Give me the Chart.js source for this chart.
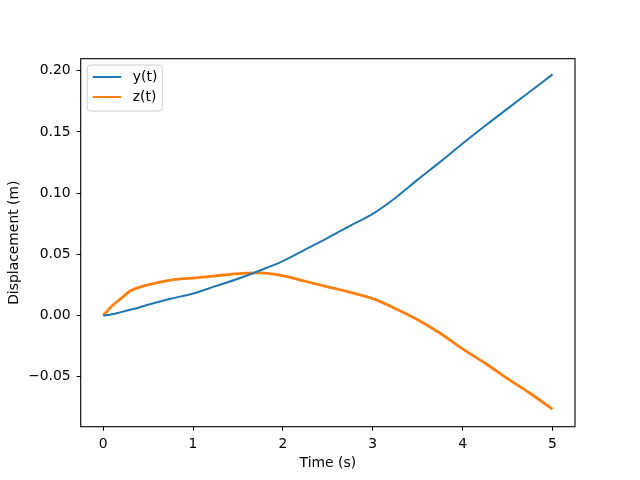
<!DOCTYPE html>
<html>
<head>
<meta charset="utf-8">
<script src="https://cdn.jsdelivr.net/npm/chart.js@4/dist/chart.umd.min.js"></script>
<style>
  html, body { margin: 0; padding: 0; background: #fff; }
  #wrap { width: 640px; height: 480px; }
</style>
</head>
<body>
<div id="wrap"><canvas id="dispChart" width="640" height="480"></canvas></div>
<script>
// data
const timeValues = [0, 0.1, 0.2, 0.3, 0.4, 0.5, 0.75, 1.0, 1.25, 1.5, 1.75, 2.0, 2.25, 2.5, 2.75, 3.0, 3.25, 3.5, 3.75, 4.0, 4.25, 4.5, 4.75, 5.0];
const yValues = [0, 0.001, 0.0028, 0.0047, 0.0066, 0.0088, 0.0137, 0.018, 0.024, 0.030, 0.037, 0.0445, 0.054, 0.0635, 0.0735, 0.083, 0.096, 0.111, 0.1255, 0.1405, 0.155, 0.169, 0.183, 0.197];
const zValues = [0, 0.008, 0.014, 0.020, 0.023, 0.025, 0.029, 0.0306, 0.0324, 0.0343, 0.0348, 0.0325, 0.028, 0.0235, 0.019, 0.0138, 0.0058, -0.0035, -0.0145, -0.0272, -0.039, -0.0515, -0.0635, -0.0765];
const xTicks = [0, 1, 2, 3, 4, 5];
const yTicks = [-0.05, 0, 0.05, 0.10, 0.15, 0.20];
const seriesNames = ['y(t)', 'z(t)'];
const seriesColors = ['#1f77b4', '#ff7f0e'];

const FONT = 'DejaVu Sans';

function toPoints(vals) {
  return timeValues.map((t, i) => ({ x: t, y: vals[i] }));
}

// frame around plot area (matplotlib spines)
const framePlugin = {
  id: 'frame',
  afterDatasetsDraw(chart) {
    const { ctx, chartArea: a } = chart;
    ctx.save();
    ctx.strokeStyle = '#000';
    ctx.lineWidth = 1.1;
    ctx.strokeRect(a.left, a.top, a.right - a.left, a.bottom - a.top);
    ctx.restore();
  }
};

// legend box in upper left corner of axes
const legendPlugin = {
  id: 'mplLegend',
  afterDraw(chart) {
    const { ctx, chartArea: a } = chart;
    const x0 = a.left + 6.6, y0 = a.top + 6.3, w = 75, h = 46;
    ctx.save();
    ctx.beginPath();
    ctx.roundRect(x0, y0, w, h, 3);
    ctx.fillStyle = 'rgba(255,255,255,0.8)';
    ctx.fill();
    ctx.strokeStyle = '#d0d0d0';
    ctx.lineWidth = 1;
    ctx.stroke();
    ctx.font = '13.9px "' + FONT + '"';
    ctx.textBaseline = 'middle';
    ctx.fillStyle = '#000';
    seriesNames.forEach((name, i) => {
      const ly = y0 + 12 + i * 20;
      ctx.beginPath();
      ctx.moveTo(x0 + 5.5, ly);
      ctx.lineTo(x0 + 34, ly);
      ctx.strokeStyle = seriesColors[i];
      ctx.lineWidth = 2;
      ctx.stroke();
      ctx.fillText(name, x0 + 45.5, ly);
    });
    ctx.restore();
  }
};

const ctx = document.getElementById('dispChart').getContext('2d');
const dispChart = new Chart(ctx, {
  type: 'line',
  data: {
    datasets: [
      {
        label: seriesNames[0],
        data: toPoints(yValues),
        borderColor: seriesColors[0],
        borderWidth: 2,
        pointRadius: 0,
        cubicInterpolationMode: 'monotone',
        fill: false
      },
      {
        label: seriesNames[1],
        data: toPoints(zValues),
        borderColor: seriesColors[1],
        borderWidth: 2.8,
        pointRadius: 0,
        cubicInterpolationMode: 'monotone',
        fill: false
      }
    ]
  },
  options: {
    responsive: false,
    animation: false,
    layout: { padding: { top: 58.7, right: 65, left: 0, bottom: 0 } },
    plugins: {
      legend: { display: false },
      tooltip: { enabled: false }
    },
    scales: {
      x: {
        type: 'linear',
        min: -0.25,
        max: 5.25,
        afterBuildTicks: s => { s.ticks = xTicks.map(v => ({ value: v })); },
        afterFit: s => { s.height = 53.3; },
        grid: { drawOnChartArea: false, drawTicks: true, tickLength: 4, color: '#000', tickWidth: 1 },
        border: { display: false },
        ticks: {
          color: '#000',
          padding: 5,
          maxRotation: 0,
          font: { family: FONT, size: 13.9 },
          callback: v => String(v)
        },
        title: {
          display: true,
          text: 'Time (s)',
          color: '#000',
          font: { family: FONT, size: 13.9 },
          padding: { top: 0, bottom: 8 }
        }
      },
      y: {
        type: 'linear',
        min: -0.0908,
        max: 0.2098,
        afterBuildTicks: s => { s.ticks = yTicks.map(v => ({ value: v })); },
        afterFit: s => { s.width = 80.7; },
        grid: { drawOnChartArea: false, drawTicks: true, tickLength: 4, color: '#000', tickWidth: 1 },
        border: { display: false },
        ticks: {
          color: '#000',
          padding: 6,
          font: { family: FONT, size: 13.9 },
          callback: v => (v < 0 ? '\u2212' : '') + Math.abs(v).toFixed(2)
        },
        title: {
          display: true,
          text: 'Displacement (m)',
          color: '#000',
          font: { family: FONT, size: 13.9 },
          padding: { top: 5.7, bottom: 0 }
        }
      }
    }
  },
  plugins: [framePlugin, legendPlugin]
});
</script>
</body>
</html>
